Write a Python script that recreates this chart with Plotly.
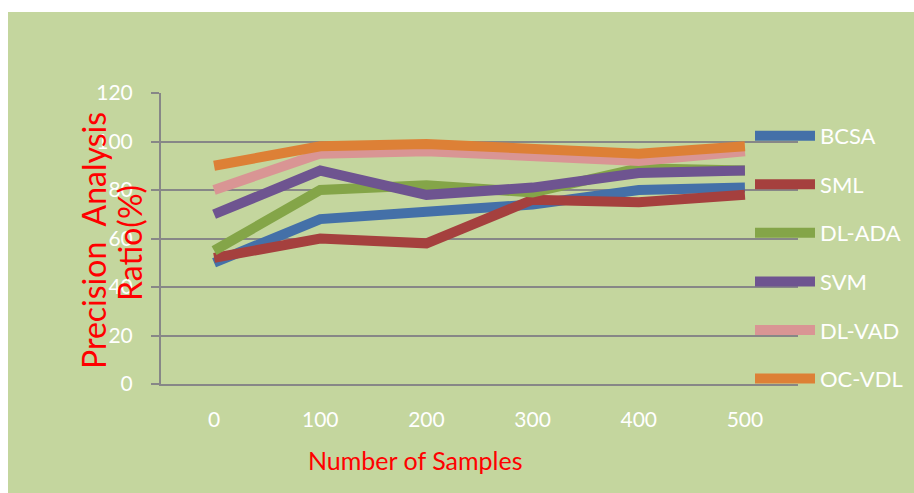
import plotly.graph_objects as go

# Number of samples on the x axis
samples = [0, 100, 200, 300, 400, 500]

# Precision analysis ratio (%) for each method
bcsa = [50, 68, 71, 74, 80, 81]
sml = [52, 60, 58, 76, 75, 78]
dl_ada = [55, 80, 82, 79, 89, 88]
svm = [70, 88, 78, 81, 87, 88]
dl_vad = [80, 95, 96, 94, 92, 96]
oc_vdl = [90, 98, 99, 97, 95, 98]

series = [
    ("BCSA", bcsa, "#4470A8"),
    ("SML", sml, "#A5403E"),
    ("DL-ADA", dl_ada, "#84A548"),
    ("SVM", svm, "#6E5490"),
    ("DL-VAD", dl_vad, "#D99594"),
    ("OC-VDL", oc_vdl, "#DD8036"),
]

y_ticks = [0, 20, 40, 60, 80, 100, 120]

FONT = "Lato"
BG = "#C4D69E"
GRID = "#878787"

fig = go.Figure()
for i, (name, vals, color) in enumerate(series):
    fig.add_trace(go.Scatter(
        x=samples, y=vals, name=name, mode="lines",
        line=dict(color=color, width=10),
        legendgroup=f"g{i}",
    ))

W, H = 914, 493
L, R, T, B = 161, 116, 93, 109
PW, PH = W - L - R, H - T - B

fig.update_layout(
    width=W, height=H,
    margin=dict(l=L, r=R, t=T, b=B, pad=0, autoexpand=False),
    paper_bgcolor="white",
    plot_bgcolor="rgba(0,0,0,0)",
    font=dict(family=FONT, color="white"),
    showlegend=True,
    legend=dict(
        x=(750 - L) / PW, xanchor="left",
        y=0.925, yanchor="top",
        bgcolor="rgba(0,0,0,0)",
        font=dict(family=FONT, size=22, color="white"),
        tracegroupgap=17,
        itemwidth=60,
        traceorder="grouped",
    ),
    shapes=[dict(
        type="rect", xref="paper", yref="paper",
        x0=(8 - L) / PW, x1=(W - L) / PW,
        y0=-B / PH - 0.01,
        y1=1 + (T - 12) / PH,
        fillcolor=BG, line=dict(width=0), layer="below",
    )],
)

fig.update_xaxes(
    range=[-50, 550],
    tickvals=samples,
    ticktext=[str(s) for s in samples],
    showgrid=False, zeroline=False,
    showline=True, linecolor=GRID, linewidth=2,
    ticks="", ticklabelstandoff=16,
    tickfont=dict(family=FONT, size=21, color="white"),
)
fig.update_yaxes(
    range=[0, 120],
    tickvals=y_ticks,
    showgrid=True, gridcolor=GRID, gridwidth=2,
    zeroline=False,
    showline=True, linecolor=GRID, linewidth=2,
    ticks="outside", ticklen=8, tickcolor=GRID, tickwidth=2,
    ticklabelstandoff=14,
    tickfont=dict(family=FONT, size=21, color="white"),
)

# Axis titles placed as annotations
fig.add_annotation(
    text="Number of Samples", xref="paper", yref="paper",
    x=(415 - L) / PW, y=-(460 - (H - B)) / PH,
    showarrow=False, xanchor="center", yanchor="middle",
    font=dict(family=FONT, size=25, color="#FF0000"),
)
fig.add_annotation(
    text="Precision  Analysis", xref="paper", yref="paper",
    x=(93 - L) / PW, y=(H - B - 241) / PH,
    showarrow=False, xanchor="center", yanchor="middle", textangle=-90,
    font=dict(family=FONT, size=32, color="#FF0000"),
)
fig.add_annotation(
    text="Ratio(%)", xref="paper", yref="paper",
    x=(130 - L) / PW, y=(H - B - 243) / PH,
    showarrow=False, xanchor="center", yanchor="middle", textangle=-90,
    font=dict(family=FONT, size=32, color="#FF0000"),
)

fig.write_html("out.html")
